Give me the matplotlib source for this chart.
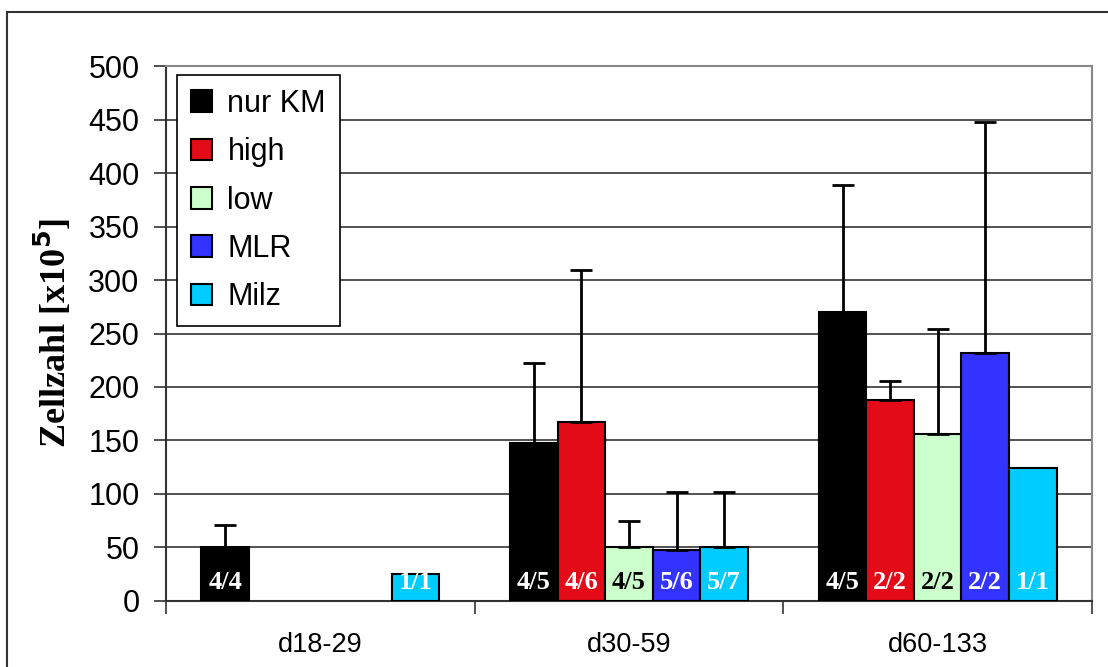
import numpy as np
import matplotlib
matplotlib.use("Agg")
import matplotlib.pyplot as plt
from matplotlib.patches import Rectangle

# data
categories = ["d18-29", "d30-59", "d60-133"]
series = ["nur KM", "high", "low", "MLR", "Milz"]
colors = ["#000000", "#E30B17", "#CCFFCC", "#3333FF", "#00CCFF"]

nur_km = [50, 148, 270]
high = [np.nan, 167, 188]
low = [np.nan, 50, 156]
mlr = [np.nan, 48, 232]
milz = [25, 50, 124]

nur_km_err = [21, 74, 119]
high_err = [np.nan, 142, 18]
low_err = [np.nan, 25, 98]
mlr_err = [np.nan, 54, 216]
milz_err = [0, 52, 0]

nur_km_n = ["4/4", "4/5", "4/5"]
high_n = ["", "4/6", "2/2"]
low_n = ["", "4/5", "2/2"]
mlr_n = ["", "5/6", "2/2"]
milz_n = ["1/1", "5/7", "1/1"]

values = [nur_km, high, low, mlr, milz]
errors = [nur_km_err, high_err, low_err, mlr_err, milz_err]
counts = [nur_km_n, high_n, low_n, mlr_n, milz_n]
label_colors = ["white", "white", "black", "white", "white"]

fig = plt.figure(figsize=(11.08, 6.67), dpi=100)
ax = fig.add_axes([0.1498, 0.099, 0.8358, 0.802])

# outer frame around the chart
fig.patches.append(Rectangle((7 / 1108, -0.1), 1.2, 1.1 - 12 / 667, transform=fig.transFigure,
                             fill=False, edgecolor="#333333", linewidth=1.5))

x = np.arange(len(categories))
width = 0.154

for i, (vals, errs, ns) in enumerate(zip(values, errors, counts)):
    pos = x + (i - 2) * width
    vals = np.array(vals, dtype=float)
    errs = np.array(errs, dtype=float)
    ax.bar(pos, vals, width, color=colors[i], edgecolor="black", linewidth=1.5,
           label=series[i], zorder=3)
    has_err = ~np.isnan(errs) & (errs > 0)
    ax.errorbar(pos[has_err], vals[has_err], yerr=[np.zeros(has_err.sum()), errs[has_err]],
                fmt="none", ecolor="black", elinewidth=2, capsize=8, capthick=2, zorder=4)
    for p, v, n in zip(pos, vals, ns):
        if n and not np.isnan(v):
            ax.text(p, 17, n, ha="center", va="center", fontsize=19, fontweight="bold",
                    family="Liberation Serif", color=label_colors[i], zorder=5)

ax.set_ylim(0, 500)
ax.set_xlim(-0.5, 2.5)
ax.set_yticks(np.arange(0, 501, 50))
ax.set_xticks(x)
ax.set_xticklabels(categories, fontsize=19.5, family="Liberation Sans")
ax.set_xticks([-0.5, 0.5, 1.5, 2.5], minor=True)
ax.tick_params(axis="x", which="major", length=0, pad=22)
ax.tick_params(axis="x", which="minor", length=9, width=1.2, color="#333333")
ax.tick_params(axis="y", length=9, width=1.2, color="#333333", labelsize=22, pad=10)
for lab in ax.get_yticklabels():
    lab.set_family("Liberation Sans")

ax.yaxis.grid(True, color="#222222", linewidth=1.1, zorder=0)
ax.set_axisbelow(True)
for side in ["top", "right"]:
    ax.spines[side].set_color("#888888")
    ax.spines[side].set_linewidth(1.5)
for side in ["left", "bottom"]:
    ax.spines[side].set_color("#333333")
    ax.spines[side].set_linewidth(1.5)

ax.set_ylabel(r"Zellzahl [x10$^{\mathbf{5}}$]", fontsize=26, fontweight="bold",
              family="Liberation Serif", labelpad=10)

leg = ax.legend(loc="upper left", bbox_to_anchor=(0.0119, 0.983), fontsize=22,
                frameon=True, fancybox=False, framealpha=1, edgecolor="black",
                handlelength=0.7, handleheight=0.7, handletextpad=0.5,
                labelspacing=0.6, borderpad=0.45, borderaxespad=0)
leg.get_frame().set_linewidth(1.2)
for t in leg.get_texts():
    t.set_family("Liberation Sans")

fig.savefig("out.png", dpi=100)
